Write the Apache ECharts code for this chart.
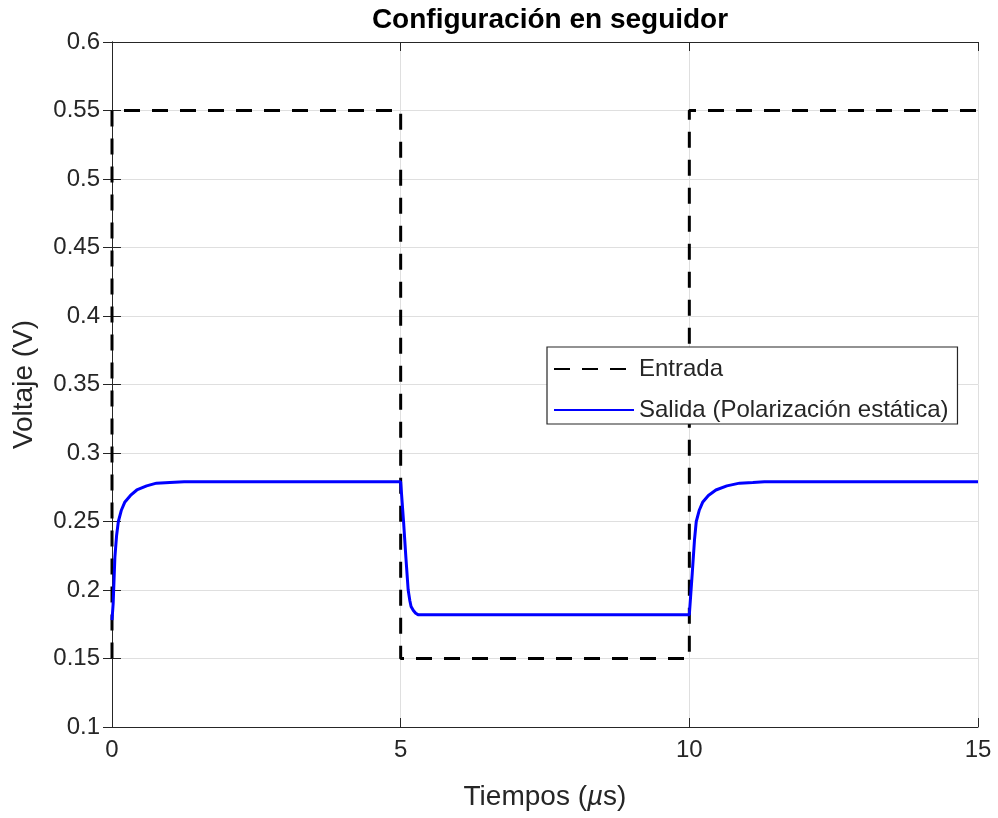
<!DOCTYPE html>
<html><head><meta charset="utf-8">
<script src="https://cdn.jsdelivr.net/npm/echarts@6/dist/echarts.min.js"></script>
<style>html,body{margin:0;padding:0;background:#fff}#c{width:998px;height:818px}</style>
</head><body><div id="c"></div>
<script>
const titleText = 'Configuración en seguidor';
const xTicks = [0, 5, 10, 15];
const yTicks = [0.1, 0.15, 0.2, 0.25, 0.3, 0.35, 0.4, 0.45, 0.5, 0.55, 0.6];
const inName = 'Entrada';
const outName = 'Salida (Polarización estática)';
const inT = [0, 0, 5, 5, 10, 10, 15];
const inV = [0.15, 0.55, 0.55, 0.15, 0.15, 0.55, 0.55];
const outT = [0, 0.02, 0.05, 0.08, 0.11, 0.16, 0.22, 0.32, 0.43, 0.6, 0.77, 1.0, 1.25, 2, 3, 4, 5.0, 5.01,
  5.05, 5.09, 5.13, 5.16, 5.18, 5.22, 5.26, 5.3, 6, 7, 8, 9, 10.0, 10.02, 10.05, 10.09, 10.12, 10.17, 10.23,
  10.33, 10.46, 10.65, 10.87, 11.1, 11.3, 12, 13, 14, 15];
const outV = [0.178, 0.190, 0.224, 0.240, 0.250, 0.258, 0.264, 0.269, 0.273, 0.276, 0.278, 0.2785, 0.279, 0.279, 0.279, 0.279, 0.279, 0.279,
  0.250, 0.224, 0.200, 0.192, 0.188, 0.185, 0.183, 0.182, 0.182, 0.182, 0.182, 0.182, 0.182, 0.183, 0.212, 0.237, 0.250, 0.258, 0.264,
  0.269, 0.273, 0.276, 0.278, 0.2785, 0.279, 0.279, 0.279, 0.279, 0.279];

const txt = '#262626';
const font = 'Liberation Sans, Arial, Helvetica, sans-serif';
const chart = echarts.init(document.getElementById('c'), null, {renderer: 'canvas'});
const axLine = {show: true, lineStyle: {color: txt, width: 1}};
const axTick = {show: true, inside: true, length: 9, lineStyle: {color: txt}};
chart.setOption({
  animation: false,
  backgroundColor: '#fff',
  title: {text: titleText, left: 545, top: 1, textAlign: 'center',
    textStyle: {fontFamily: font, fontSize: 28, fontWeight: 'bold', color: '#000'}},
  grid: {left: 112, right: 20, top: 42, bottom: 91, containLabel: false},
  legend: {
    left: 547, top: 347, orient: 'vertical', itemWidth: 80, itemHeight: 20, itemGap: 17,
    padding: [10, 9, 2, 6], backgroundColor: '#fff', borderColor: txt, borderWidth: 1.2,
    itemStyle: {opacity: 0},
    textStyle: {fontFamily: font, fontSize: 24, color: txt},
    data: [inName, outName]
  },
  xAxis: [
    {type: 'value', min: 0, max: 15, interval: 5, position: 'bottom',
      name: 'Tiempos ({i|µ}s)', nameLocation: 'middle', nameGap: 56,
      nameTextStyle: {fontFamily: font, fontSize: 28, color: txt,
        rich: {i: {fontFamily: font, fontSize: 28, fontStyle: 'italic', color: txt}}},
      axisLine: axLine, axisTick: axTick,
      axisLabel: {fontFamily: font, fontSize: 24, color: txt, margin: 11},
      splitLine: {show: true, lineStyle: {color: '#dfdfdf', width: 1}}},
    {type: 'value', min: 0, max: 15, interval: 5, position: 'top',
      axisLine: axLine, axisTick: axTick, axisLabel: {show: false}, splitLine: {show: false}}
  ],
  yAxis: [
    {type: 'value', min: 0.1, max: 0.6, interval: 0.05, position: 'left',
      name: 'Voltaje (V)', nameLocation: 'middle', nameGap: 74, nameRotate: 90,
      nameTextStyle: {fontFamily: font, fontSize: 28, color: txt},
      axisLine: axLine, axisTick: axTick,
      axisLabel: {fontFamily: font, fontSize: 24, color: txt, margin: 12,
        formatter: v => String(parseFloat(v.toFixed(2)))},
      splitLine: {show: true, lineStyle: {color: '#dfdfdf', width: 1}}},
    {type: 'value', min: 0.1, max: 0.6, interval: 0.05, position: 'right',
      axisLine: axLine, axisTick: axTick, axisLabel: {show: false}, splitLine: {show: false}}
  ],
  series: [
    {name: inName, type: 'line', xAxisIndex: 0, yAxisIndex: 0, symbol: 'none', z: 3,
      lineStyle: {color: '#000', width: 3, type: [16, 12]}, itemStyle: {color: '#000'},
      data: inT.map((t, i) => [t, inV[i]])},
    {name: outName, type: 'line', xAxisIndex: 0, yAxisIndex: 0, symbol: 'none', z: 4,
      lineStyle: {color: '#0000ff', width: 3}, itemStyle: {color: '#0000ff'},
      data: outT.map((t, i) => [t, outV[i]])}
  ]
});
</script></body></html>
